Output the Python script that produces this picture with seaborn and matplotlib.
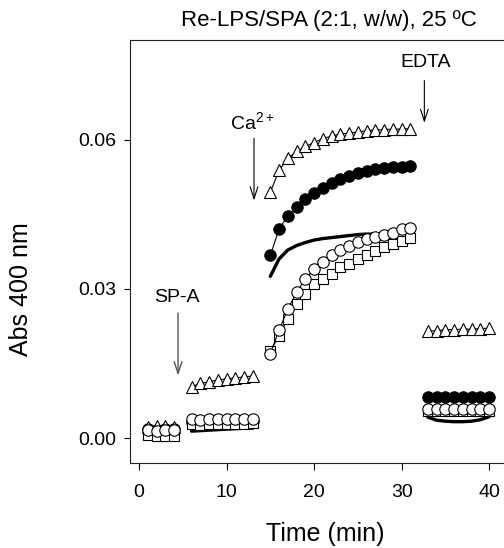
import matplotlib
matplotlib.use("Agg")
import matplotlib.pyplot as plt
import numpy as np
import pandas as pd
import seaborn as sns

# time points (min) for the four recording segments
t_seg1 = [1, 2, 3, 4]
t_seg2 = [6, 7, 8, 9, 10, 11, 12, 13]
t_seg3 = [15, 16, 17, 18, 19, 20, 21, 22, 23, 24, 25, 26, 27, 28, 29, 30, 31]
t_seg4 = [33, 34, 35, 36, 37, 38, 39, 40]

# open circles
circ_1 = [0.0016, 0.0015, 0.0016, 0.0016]
circ_2 = [0.0038, 0.0036, 0.0039, 0.0038, 0.0038, 0.0038, 0.0038, 0.0039]
circ_3 = [0.0170, 0.0217, 0.0259, 0.0293, 0.0320, 0.0340, 0.0353, 0.0367, 0.0378,
          0.0387, 0.0394, 0.0400, 0.0404, 0.0408, 0.0413, 0.0421, 0.0422]
circ_4 = [0.0058, 0.0058, 0.0058, 0.0058, 0.0058, 0.0058, 0.0058, 0.0058]

# open squares
sq_1 = [0.0006, 0.0004, 0.0004, 0.0004]
sq_2 = [0.0029, 0.0027, 0.0028, 0.0028, 0.0028, 0.0029, 0.0029, 0.0030]
sq_3 = [0.0175, 0.0205, 0.0240, 0.0270, 0.0290, 0.0310, 0.0320, 0.0330, 0.0343,
        0.0350, 0.0360, 0.0367, 0.0377, 0.0385, 0.0390, 0.0397, 0.0403]
sq_4 = [0.0055, 0.0055, 0.0055, 0.0055, 0.0055, 0.0055, 0.0055, 0.0055]

# open triangles
tri_1 = [0.0022, 0.0024, 0.0024, 0.0022]
tri_2 = [0.0103, 0.0110, 0.0113, 0.0117, 0.0119, 0.0121, 0.0123, 0.0125]
tri_3 = [0.0494, 0.0538, 0.0562, 0.0576, 0.0586, 0.0594, 0.0602, 0.0607, 0.0611,
         0.0613, 0.0615, 0.0618, 0.0619, 0.0620, 0.0621, 0.0621, 0.0622]
tri_4 = [0.0215, 0.0216, 0.0218, 0.0218, 0.0219, 0.0219, 0.0220, 0.0221]

# filled circles
fill_1 = [0.0018, 0.0017, 0.0018, 0.0018]
fill_2 = [0.0032, 0.0031, 0.0032, 0.0032, 0.0033, 0.0033, 0.0033, 0.0034]
fill_3 = [0.0367, 0.0420, 0.0447, 0.0465, 0.0480, 0.0493, 0.0503, 0.0512, 0.0520,
          0.0527, 0.0532, 0.0536, 0.0540, 0.0542, 0.0544, 0.0545, 0.0546]
fill_4 = [0.0083, 0.0083, 0.0083, 0.0083, 0.0083, 0.0083, 0.0083, 0.0083]

# thick solid trace, no markers
trace_1 = [0.0012, 0.0012, 0.0012, 0.0012]
trace_2 = [0.0014, 0.0015, 0.0016, 0.0017, 0.0018, 0.0019, 0.0020, 0.0020]
trace_3 = [0.0325, 0.0360, 0.0378, 0.0387, 0.0393, 0.0398, 0.0401, 0.0403, 0.0405,
           0.0407, 0.0409, 0.0410, 0.0410, 0.0411, 0.0411, 0.0412, 0.0412]
trace_4 = [0.0042, 0.0036, 0.0034, 0.0033, 0.0033, 0.0034, 0.0037, 0.0043]

x_ticks = [0, 10, 20, 30, 40]
y_ticks = [0.0, 0.03, 0.06]
y_ticklabels = ["0.00", "0.03", "0.06"]

sns.set_style("ticks")
plt.rcParams["font.family"] = ["Liberation Sans", "DejaVu Sans"]
plt.rcParams["mathtext.fontset"] = "custom"
plt.rcParams["mathtext.rm"] = "Liberation Sans"
plt.rcParams["mathtext.default"] = "regular"
for key in ["text.color", "axes.labelcolor", "xtick.color", "ytick.color"]:
    plt.rcParams[key] = "black"

fig = plt.figure(figsize=(5.04, 5.48), dpi=100)
ax = fig.add_axes([130 / 504, 85 / 548, 1 - 130 / 504, 423 / 548])

times = [t_seg1, t_seg2, t_seg3, t_seg4]

# thick trace first (sits behind markers)
for t, v in zip(times, [trace_1, trace_2, trace_3, trace_4]):
    sns.lineplot(x=t, y=v, ax=ax, color="black", lw=2.4, zorder=2)

series = [
    (fill_1, fill_2, fill_3, fill_4, "o", 8.2, "black"),
    (tri_1, tri_2, tri_3, tri_4, "^", 8.6, "white"),
    (sq_1, sq_2, sq_3, sq_4, "s", 6.8, "white"),
    (circ_1, circ_2, circ_3, circ_4, "o", 8.2, "white"),
]
z = 3
for s1, s2, s3, s4, mk, ms, face in series:
    for t, v in zip(times, [s1, s2, s3, s4]):
        sns.lineplot(x=t, y=v, ax=ax, color="black", lw=0.8, marker=mk,
                     markersize=ms, markerfacecolor=face,
                     markeredgecolor="black", markeredgewidth=0.8, zorder=z)
    z += 1

ax.set_xlim(-1.03, 41.7)
ax.set_ylim(-0.005, 0.08)
ax.set_xticks(x_ticks)
ax.set_yticks(y_ticks)
ax.set_yticklabels(y_ticklabels)
ax.tick_params(axis="x", direction="out", length=5, width=0.8, pad=10, labelsize=14)
ax.tick_params(axis="y", direction="out", length=4, width=0.8, pad=6, labelsize=14)
for side in ["left", "bottom", "top"]:
    ax.spines[side].set_visible(True)
    ax.spines[side].set_linewidth(0.8)
    ax.spines[side].set_color("#222222")
ax.spines["right"].set_visible(False)

ax.set_xlabel("Time (min)", fontsize=18)
ax.set_ylabel("Abs 400 nm", fontsize=18)
ax.xaxis.set_label_coords(0.521, -0.14)
ax.yaxis.set_label_coords(-0.26, 0.41)

ax.text(0.532, 1.047, "Re-LPS/SPA (2:1, w/w), 25 ºC", transform=ax.transAxes,
        ha="center", va="center", fontsize=16)

# addition arrows
arrow_style = "->, head_length=0.85, head_width=0.28"
ax.annotate("", xy=(4.46, 0.0120), xytext=(4.46, 0.0257),
            arrowprops=dict(arrowstyle=arrow_style, color="#555555", lw=1.0))
ax.text(4.35, 0.0283, "SP-A", ha="center", va="center", fontsize=14)

ax.annotate("", xy=(13.14, 0.0472), xytext=(13.14, 0.0608),
            arrowprops=dict(arrowstyle=arrow_style, color="black", lw=0.8))
ax.text(13.0, 0.0634, "Ca$^{2+}$", ha="center", va="center", fontsize=14)

ax.annotate("", xy=(32.6, 0.0628), xytext=(32.6, 0.0724),
            arrowprops=dict(arrowstyle=arrow_style, color="black", lw=0.8))
ax.text(32.7, 0.0755, "EDTA", ha="center", va="center", fontsize=14)

fig.savefig("out.png", dpi=100)
